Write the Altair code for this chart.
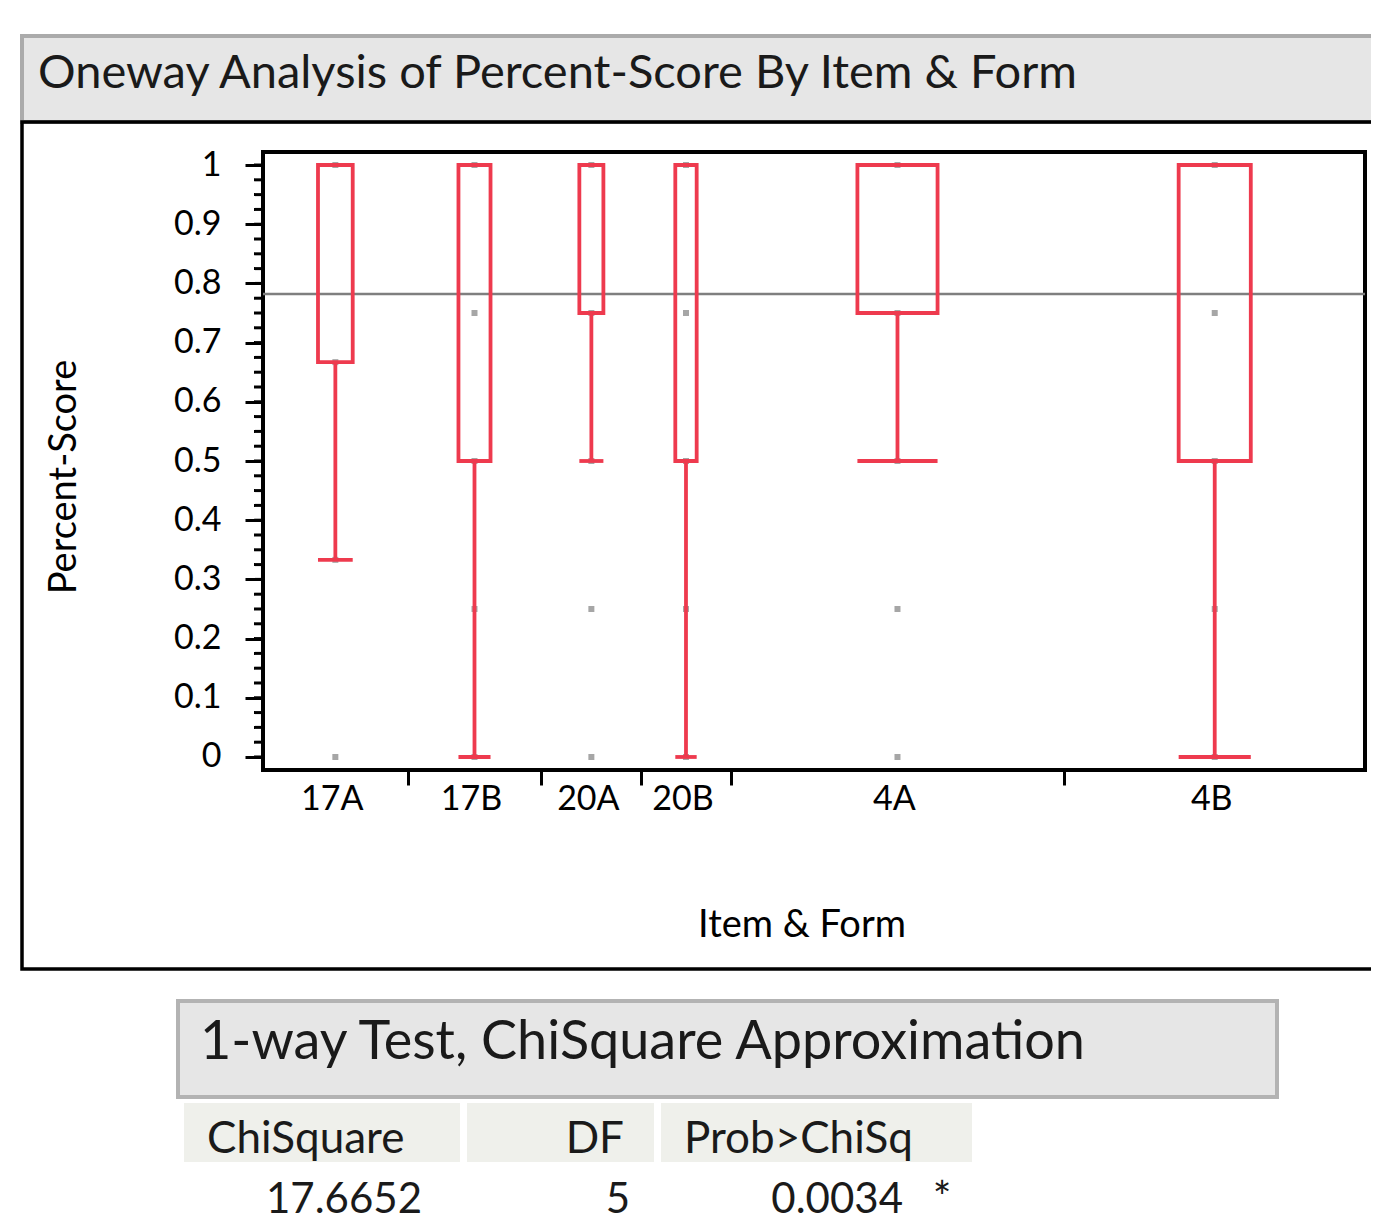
import altair as alt
import pandas as pd
import numpy as np

# ---------------- data ----------------
groups = ["17A", "17B", "20A", "20B", "4A", "4B"]
n_obs = [13, 12, 9, 8, 30, 27]
q1 = [0.667, 0.5, 0.75, 0.5, 0.75, 0.5]
q3 = [1.0, 1.0, 1.0, 1.0, 1.0, 1.0]
whisker_low = [0.333, 0.0, 0.5, 0.0, 0.5, 0.0]
points_17A = [1.0, 0.667, 0.333, 0.0]
points_17B = [1.0, 0.75, 0.5, 0.25, 0.0]
points_20A = [1.0, 0.75, 0.5, 0.25, 0.0]
points_20B = [1.0, 0.75, 0.5, 0.25, 0.0]
points_4A = [1.0, 0.75, 0.5, 0.25, 0.0]
points_4B = [1.0, 0.75, 0.5, 0.25, 0.0]
grand_mean = [0.782]
y_tick_values = [0, 0.1, 0.2, 0.3, 0.4, 0.5, 0.6, 0.7, 0.8, 0.9, 1]
y_minor_ticks = [round(i * 0.025, 3) for i in range(41)]
chi_headers = ["ChiSquare", "DF", "Prob>ChiSq"]
chi_values = ["17.6652", "5", "0.0034"]

title_main = "Oneway Analysis of Percent-Score By Item & Form"
title_test = "1-way Test, ChiSquare Approximation"
x_title = "Item & Form"
y_title = "Percent-Score"

# ---------------- derived tables ----------------
n_arr = np.array(n_obs, dtype=float)
end = np.cumsum(n_arr)
start = end - n_arr
center = start + n_arr / 2
half = 0.12 * n_arr
total = float(end[-1])

boxes = pd.DataFrame({
    "group": groups, "center": center, "lo": center - half, "hi": center + half,
    "q1": q1, "q3": q3, "wlo": whisker_low,
})
pts_lists = [points_17A, points_17B, points_20A, points_20B, points_4A, points_4B]
pts = pd.DataFrame([
    {"group": g, "center": c, "value": v}
    for g, c, lst in zip(groups, center, pts_lists) for v in lst
])
boundaries = [float(b) for b in end[:-1]]

W, H = 1102, 618
RED = "#ee3a4e"
FONT = "Lato"

xscale = alt.Scale(domain=[0, total], nice=False, zero=False)
yscale = alt.Scale(domain=[-0.022, 1.022], nice=False, zero=False)
xaxis = alt.Axis(values=boundaries, labels=False, tickSize=15, tickWidth=3,
                 tickColor="black", domain=False, grid=False, title=None)
yaxis = alt.Axis(values=y_tick_values, format="~g", tickSize=18, tickWidth=3,
                 tickColor="black", domain=False, grid=False, title=None,
                 labelFont=FONT, labelFontSize=34, labelColor="black",
                 labelPadding=24)


def X(f):
    return alt.X(f, type="quantitative", scale=xscale, axis=xaxis)


def Y(f):
    return alt.Y(f, type="quantitative", scale=yscale, axis=yaxis)


one = pd.DataFrame({"k": [0]})


def box_deco(x0, x1, y0, y1, fill, stroke, sw):
    return alt.Chart(one).mark_rect(fill=fill, stroke=stroke, strokeWidth=sw).encode(
        x=alt.value(x0), x2=alt.value(x1), y=alt.value(y0), y2=alt.value(y1))


def label(text, x, y, size, align="left", color="#1a1a1a", angle=0):
    return alt.Chart(pd.DataFrame({"t": [text]})).mark_text(
        font=FONT, fontSize=size, align=align, baseline="middle", color=color,
        angle=angle).encode(x=alt.value(x), y=alt.value(y), text="t:N")


# ---------------- decorations ----------------
header1 = box_deco(-241, 1140, -116, -30, "#e6e6e6", "#ababab", 4)
panel = box_deco(-241, 1140, -30, 817, "transparent", "black", 3.5)
header2 = box_deco(-85, 1014, 849, 945, "#e6e6e6", "#b3b3b3", 4)
cell_fill = "#eff0eb"
cells = [box_deco(-79, 197, 951, 1010, cell_fill, cell_fill, 0),
         box_deco(204, 391, 951, 1010, cell_fill, cell_fill, 0),
         box_deco(398, 709, 951, 1010, cell_fill, cell_fill, 0)]

# ---------------- plot marks ----------------
mean_line = alt.Chart(pd.DataFrame({"m": grand_mean})).mark_rule(
    color="#7f7f7f", strokeWidth=2.5).encode(y=Y("m"), x=alt.value(0), x2=alt.value(W))

points = alt.Chart(pts).mark_square(size=36, color="#a6a6a6", opacity=1).encode(
    x=X("center"), y=Y("value"))

whiskers = alt.Chart(boxes).mark_rule(color=RED, strokeWidth=3.8).encode(
    x=X("center"), y=Y("wlo"), y2="q1")

caps = alt.Chart(boxes).mark_rule(color=RED, strokeWidth=3.8).encode(
    x=X("lo"), x2="hi", y=Y("wlo"))

rects = alt.Chart(boxes).mark_rect(fill="transparent", stroke=RED, strokeWidth=3.8).encode(
    x=X("lo"), x2="hi", y=Y("q1"), y2="q3")

minor = alt.Chart(pd.DataFrame({"t": y_minor_ticks})).mark_rule(
    color="black", strokeWidth=3).encode(y=Y("t"), x=alt.value(-9), x2=alt.value(0))

xlabels = alt.Chart(boxes).mark_text(font=FONT, fontSize=34, color="black",
                                     baseline="middle", align="center", dx=-3).encode(
    x=X("center"), y=alt.value(648), text="group:N")

texts = [
    label(title_main, -225, -78, 47),
    label(y_title, -198, 325, 38, align="center", color="black", angle=270),
    label(x_title, 539, 774, 38, align="center", color="black"),
    label(title_test, -63, 891, 54),
    label(chi_headers[0], -56, 988, 44),
    label(chi_headers[1], 361, 988, 44, align="right"),
    label(chi_headers[2], 421, 988, 44),
    label(chi_values[0], 159, 1048, 42, align="right"),
    label(chi_values[1], 367, 1048, 42, align="right"),
    label(chi_values[2], 640, 1048, 42, align="right"),
    label("*", 679, 1048, 44, align="center"),
]

chart = alt.layer(
    header1, panel, header2, *cells,
    mean_line, points, whiskers, caps, rects, minor, xlabels, *texts
).properties(
    width=W, height=H,
    autosize=alt.AutoSizeParams(type="none"),
    padding={"left": 255, "top": 144, "right": 6, "bottom": 452},
    background="white",
).configure_view(stroke="black", strokeWidth=4)

chart.save("out.html", embed_options={"renderer": "svg", "actions": False})
